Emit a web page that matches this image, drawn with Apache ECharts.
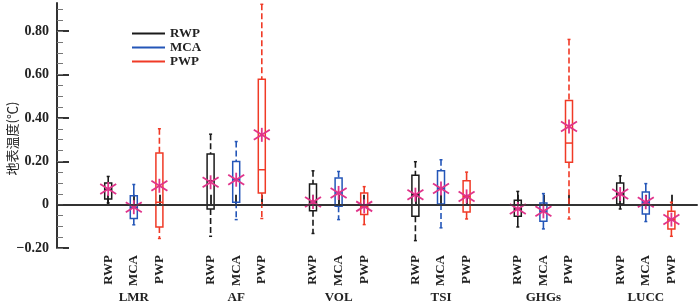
<!DOCTYPE html>
<html>
<head>
<meta charset="utf-8">
<script src="https://cdn.jsdelivr.net/npm/echarts@6/dist/echarts.min.js"></script>
<style>
  html, body { margin: 0; padding: 0; background: #fff; }
  #chart { width: 700px; height: 305px; }
</style>
</head>
<body>
<div id="chart"></div>
<script>
const forcings = ['LMR', 'AF', 'VOL', 'TSI', 'GHGs', 'LUCC'];
const schemes = ['RWP', 'MCA', 'PWP'];
const schemeColors = ['#1a1a1a', '#2456b8', '#f03a26'];
const yMajorTicks = [-0.2, 0, 0.2, 0.4, 0.6, 0.8];

// RWP
const rwpLow  = [0.008, -0.146, -0.133, -0.166, -0.103, -0.020];
const rwpQ1   = [0.026, -0.020, -0.028, -0.054, -0.054, 0.003];
const rwpMed  = [0.070, 0.110, 0.012, 0.046, -0.020, 0.049];
const rwpQ3   = [0.100, 0.233, 0.095, 0.135, 0.020, 0.100];
const rwpHigh = [0.130, 0.325, 0.156, 0.198, 0.061, 0.133];
const rwpMean = [0.072, 0.103, 0.012, 0.046, -0.020, 0.049];
const rwpDash = [0, 1, 1, 1, 0, 0];

// MCA
const mcaLow  = [-0.093, -0.069, -0.069, -0.107, -0.112, -0.078];
const mcaQ1   = [-0.064, 0.011, -0.008, 0.003, -0.077, -0.043];
const mcaMed  = [-0.012, 0.115, 0.054, 0.074, -0.031, 0.011];
const mcaQ3   = [0.041, 0.199, 0.123, 0.156, 0.008, 0.058];
const mcaHigh = [0.093, 0.291, 0.153, 0.207, 0.051, 0.097];
const mcaMean = [-0.012, 0.115, 0.054, 0.074, -0.031, 0.011];
const mcaDash = [0, 1, 1, 1, 0, 0];

// PWP
const pwpLow  = [-0.156, -0.064, -0.092, -0.066, -0.066, -0.146];
const pwpQ1   = [-0.103, 0.054, -0.046, -0.034, 0.195, -0.112];
const pwpMed  = [0.011, 0.161, -0.008, 0.038, 0.284, -0.069];
const pwpQ3   = [0.238, 0.578, 0.054, 0.110, 0.480, -0.031];
const pwpHigh = [0.350, 0.924, 0.083, 0.150, 0.762, 0.011];
const pwpMean = [0.087, 0.322, -0.008, 0.038, 0.360, -0.069];
const pwpDash = [1, 1, 0, 0, 1, 0];

// category slots: 2 empty, then 3 schemes + 1 gap per forcing
let xSlots = ['', ''];
let groupSlots = ['', ''];
forcings.forEach(f => {
  schemes.forEach((s, k) => {
    xSlots.push(s);
    groupSlots.push(k === 1 ? f : '');
  });
  xSlots.push('');
  groupSlots.push('');
});

let yMinorTicks = [];
for (let i = 0; i <= 22; i++) yMinorTicks.push(Math.round((-0.2 + i * 0.05) * 100) / 100);

function buildData(k, low, q1, med, q3, high, mean, dash) {
  return forcings.map((f, g) => [2 + 4 * g + k, low[g], q1[g], med[g], q3[g], high[g], mean[g], dash[g]]);
}

function renderBox(params, api) {
  const x = api.value(0);
  const low = api.coord([x, api.value(1)]);
  const q1 = api.coord([x, api.value(2)]);
  const med = api.coord([x, api.value(3)]);
  const q3 = api.coord([x, api.value(4)]);
  const high = api.coord([x, api.value(5)]);
  const mean = api.coord([x, api.value(6)]);
  const dashed = api.value(7) === 1;
  const color = api.visual('color');
  const cx = low[0];
  const hw = 3.5;
  const wStyle = { stroke: color, lineWidth: 1.6, lineDash: dashed ? [6, 3] : null };
  const sStyle = { stroke: color, lineWidth: 1.5, fill: null };
  const star = { stroke: '#e0338a', lineWidth: 1.8 };
  return {
    type: 'group',
    children: [
      { type: 'line', shape: { x1: cx, y1: high[1], x2: cx, y2: q3[1] }, style: wStyle },
      { type: 'line', shape: { x1: cx, y1: q1[1], x2: cx, y2: low[1] }, style: wStyle },
      { type: 'line', shape: { x1: cx - 1.5, y1: high[1], x2: cx + 1.5, y2: high[1] }, style: sStyle },
      { type: 'line', shape: { x1: cx - 1.5, y1: low[1], x2: cx + 1.5, y2: low[1] }, style: sStyle },
      { type: 'rect', shape: { x: cx - hw, y: q3[1], width: hw * 2, height: q1[1] - q3[1] }, style: sStyle },
      { type: 'line', shape: { x1: cx - hw, y1: med[1], x2: cx + hw, y2: med[1] }, style: sStyle },
      { type: 'line', shape: { x1: cx - 8, y1: mean[1] - 5, x2: cx + 8, y2: mean[1] + 5 }, style: star },
      { type: 'line', shape: { x1: cx - 8, y1: mean[1] + 5, x2: cx + 8, y2: mean[1] - 5 }, style: star },
      { type: 'line', shape: { x1: cx, y1: mean[1] - 7, x2: cx, y2: mean[1] + 7 }, style: star }
    ]
  };
}

const seriesData = [
  buildData(0, rwpLow, rwpQ1, rwpMed, rwpQ3, rwpHigh, rwpMean, rwpDash),
  buildData(1, mcaLow, mcaQ1, mcaMed, mcaQ3, mcaHigh, mcaMean, mcaDash),
  buildData(2, pwpLow, pwpQ1, pwpMed, pwpQ3, pwpHigh, pwpMean, pwpDash)
];

const serif = 'Liberation Serif';
const axisColor = '#333';

const chart = echarts.init(document.getElementById('chart'));
chart.setOption({
  animation: false,
  grid: { left: 57, right: 3, top: 3, bottom: 57, containLabel: false, outerBoundsMode: 'none' },
  legend: {
    orient: 'vertical', left: 127, top: 22,
    itemWidth: 33, itemHeight: 2, itemGap: 1, icon: 'rect',
    textStyle: { fontFamily: serif, fontWeight: 'bold', fontSize: 13, color: '#222' },
    data: schemes
  },
  xAxis: [
    {
      type: 'category', position: 'bottom', boundaryGap: false, data: xSlots,
      axisLine: { lineStyle: { color: axisColor, width: 2 } },
      axisTick: { show: true, inside: true, length: 10, interval: (i, v) => v !== '', lineStyle: { color: axisColor, width: 2 } },
      axisLabel: { interval: 0, rotate: 90, margin: 7, fontFamily: serif, fontWeight: 'bold', fontSize: 13, color: '#222' },
      splitLine: { show: false }
    },
    {
      type: 'category', position: 'bottom', boundaryGap: false, data: groupSlots,
      axisLine: { show: false }, axisTick: { show: false },
      axisLabel: { interval: 0, margin: 43, fontFamily: serif, fontWeight: 'bold', fontSize: 13, color: '#222' },
      splitLine: { show: false }
    }
  ],
  yAxis: [
    {
      type: 'value', position: 'left', min: -0.2, max: 0.93, interval: 0.2,
      name: '地表温度(℃)', nameLocation: 'middle', nameGap: 38, nameMoveOverlap: false,
      nameTextStyle: { fontFamily: 'Noto Sans CJK SC', fontSize: 13, color: '#222', padding: [0, 26, 0, 0] },
      axisLine: { show: true, lineStyle: { color: axisColor, width: 2 } },
      axisTick: { show: true, inside: true, length: 12, customValues: yMajorTicks, lineStyle: { color: axisColor, width: 2 } },
      axisLabel: {
        customValues: yMajorTicks, margin: 8,
        fontFamily: serif, fontWeight: 'bold', fontSize: 14, color: '#222',
        formatter: v => v === 0 ? '0' : (v < 0 ? '\u2212' + Math.abs(v).toFixed(2) : v.toFixed(2))
      },
      splitLine: { show: false }
    },
    {
      type: 'value', position: 'left', min: -0.2, max: 0.93, interval: 0.05,
      axisLine: { show: false },
      axisTick: { show: true, inside: true, length: 6, customValues: yMinorTicks, lineStyle: { color: '#777', width: 1 } },
      axisLabel: { show: false },
      splitLine: { show: false }
    }
  ],
  series: schemes.map((s, k) => ({
    name: s,
    type: 'custom',
    xAxisIndex: 0, yAxisIndex: 0,
    itemStyle: { color: schemeColors[k] },
    encode: { x: 0, y: [1, 5] },
    renderItem: renderBox,
    data: seriesData[k],
    markLine: k === 0 ? {
      silent: true, symbol: 'none', label: { show: false },
      lineStyle: { color: axisColor, width: 1.5, type: 'solid' },
      data: [{ yAxis: 0 }]
    } : undefined
  }))
});
</script>
</body>
</html>
